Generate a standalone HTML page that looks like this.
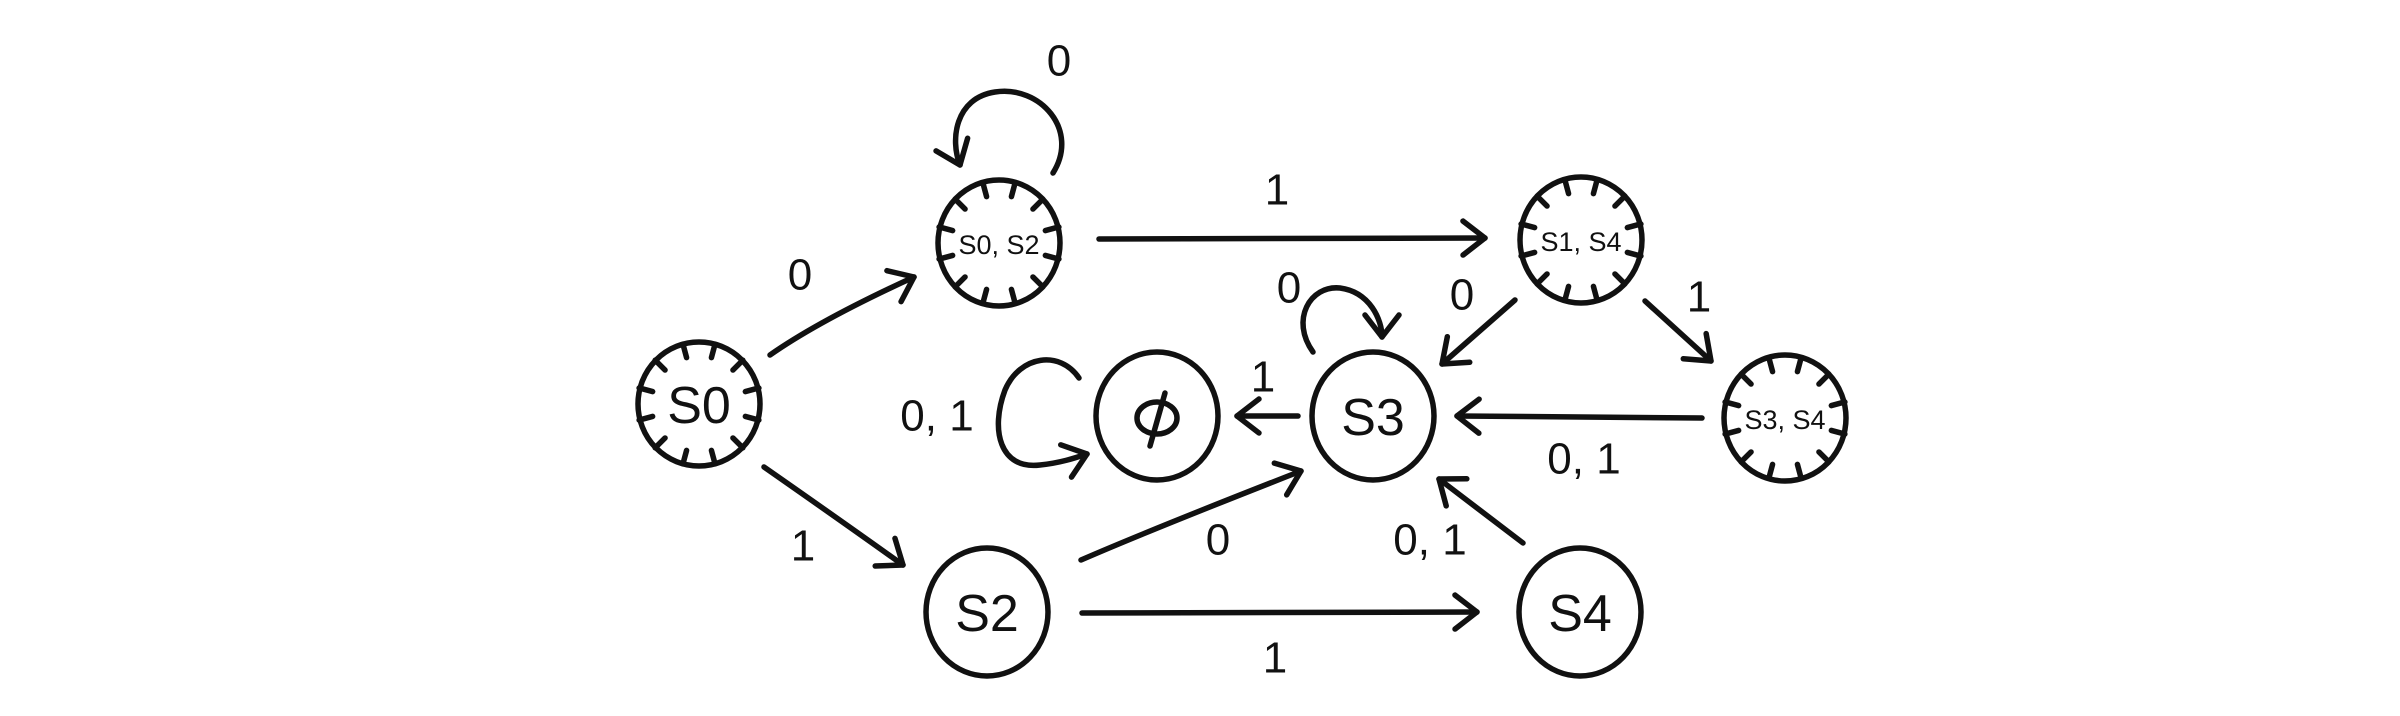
<!DOCTYPE html>
<html><head><style>
html,body{margin:0;padding:0;background:#fff;}
svg{display:block;}
text{font-family:"Liberation Sans",sans-serif;fill:#111;text-anchor:middle;dominant-baseline:central;}
</style></head><body>
<svg width="2400" height="716" viewBox="0 0 2400 716" xmlns="http://www.w3.org/2000/svg">
<defs>
<marker id="a" markerWidth="10" markerHeight="10" refX="8" refY="5" orient="auto" markerUnits="userSpaceOnUse" viewBox="0 0 10 10" overflow="visible">
<path d="M-14,-12 L8,5 L-14,22" fill="none" stroke="#111" stroke-width="5.5" stroke-linecap="round" stroke-linejoin="round"/>
</marker>
<g id="ticks" stroke="#111" stroke-width="5.5" stroke-linecap="round">
<line x1="0" y1="-62" x2="0" y2="-48" transform="rotate(15)"/>
<line x1="0" y1="-62" x2="0" y2="-48" transform="rotate(45)"/>
<line x1="0" y1="-62" x2="0" y2="-48" transform="rotate(75)"/>
<line x1="0" y1="-62" x2="0" y2="-48" transform="rotate(105)"/>
<line x1="0" y1="-62" x2="0" y2="-48" transform="rotate(135)"/>
<line x1="0" y1="-62" x2="0" y2="-48" transform="rotate(165)"/>
<line x1="0" y1="-62" x2="0" y2="-48" transform="rotate(195)"/>
<line x1="0" y1="-62" x2="0" y2="-48" transform="rotate(225)"/>
<line x1="0" y1="-62" x2="0" y2="-48" transform="rotate(255)"/>
<line x1="0" y1="-62" x2="0" y2="-48" transform="rotate(285)"/>
<line x1="0" y1="-62" x2="0" y2="-48" transform="rotate(315)"/>
<line x1="0" y1="-62" x2="0" y2="-48" transform="rotate(345)"/>
</g>
</defs>
<g fill="none" stroke="#111" stroke-width="5.5" stroke-linecap="round">
<ellipse cx="699" cy="404" rx="61" ry="62"/>
<ellipse cx="999" cy="243" rx="61" ry="63"/>
<ellipse cx="1581" cy="240" rx="61" ry="63"/>
<ellipse cx="1785" cy="418" rx="61" ry="63"/>
<ellipse cx="1373" cy="416" rx="61" ry="64"/>
<ellipse cx="1157" cy="416" rx="61" ry="64"/>
<ellipse cx="987" cy="612" rx="61" ry="64"/>
<ellipse cx="1580" cy="612" rx="61" ry="64"/>
<path d="M770,355 Q820,320 914,277" marker-end="url(#a)"/>
<path d="M764,467 Q840,520 903,565" marker-end="url(#a)"/>
<path d="M1053,173 C1080,130 1040,85 995,92 C955,98 950,140 960,165" marker-end="url(#a)"/>
<path d="M1099,239 L1485,238" marker-end="url(#a)"/>
<path d="M1515,300 L1442,364" marker-end="url(#a)"/>
<path d="M1645,301 L1711,361" marker-end="url(#a)"/>
<path d="M1702,418 L1457,416" marker-end="url(#a)"/>
<path d="M1313,352 C1290,320 1310,285 1340,288 C1370,292 1382,320 1382,337" marker-end="url(#a)"/>
<path d="M1298,416 L1237,416" marker-end="url(#a)"/>
<path d="M1079,378 C1060,350 1020,355 1005,390 C990,430 1000,470 1040,465 C1060,463 1075,458 1087,454" marker-end="url(#a)"/>
<path d="M1081,560 Q1150,530 1301,471" marker-end="url(#a)"/>
<path d="M1523,543 L1439,479" marker-end="url(#a)"/>
<path d="M1082,613 L1477,612" marker-end="url(#a)"/>
<!-- phi glyph drawn -->
<ellipse cx="1157" cy="418" rx="20" ry="16"/>
<path d="M1165,393 L1150,446"/>
</g>
<use href="#ticks" x="699" y="404"/>
<use href="#ticks" x="999" y="243"/>
<use href="#ticks" x="1581" y="240"/>
<use href="#ticks" x="1785" y="418"/>
<g font-size="52">
<text x="699" y="406">S0</text>
<text x="1373" y="418">S3</text>
<text x="987" y="614">S2</text>
<text x="1580" y="614">S4</text>
</g>
<g font-size="27">
<text x="999" y="245">S0, S2</text>
<text x="1581" y="242">S1, S4</text>
<text x="1785" y="420">S3, S4</text>
</g>
<g font-size="44">
<text x="800" y="275">0</text>
<text x="803" y="546">1</text>
<text x="1059" y="61">0</text>
<text x="1277" y="190">1</text>
<text x="1462" y="295">0</text>
<text x="1699" y="297">1</text>
<text x="1584" y="459">0, 1</text>
<text x="1289" y="288">0</text>
<text x="1263" y="377">1</text>
<text x="937" y="416">0, 1</text>
<text x="1218" y="540">0</text>
<text x="1430" y="540">0, 1</text>
<text x="1275" y="658">1</text>
</g>
</svg>
</body></html>
